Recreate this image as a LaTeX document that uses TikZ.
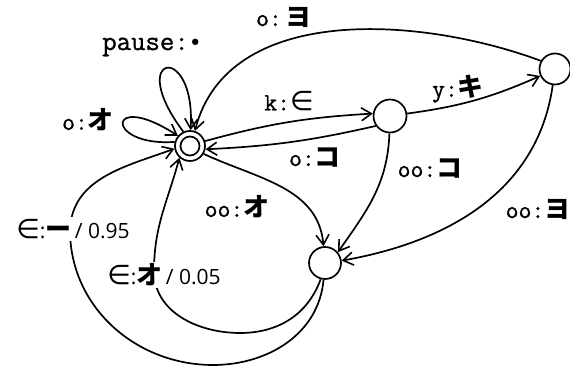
\documentclass[tikz,border=0pt]{standalone}
\usepackage{fontspec}
\usetikzlibrary{arrows.meta}
\newfontfamily\jpfont{Noto Sans CJK JP}
\newfontfamily\symfont{DejaVu Sans}
\newfontfamily\numfont{Open Sans}
\newfontfamily\monofont{Latin Modern Mono}[FakeBold=1]
\newcommand\kana[1]{{\fontsize{26}{26}\jpfont\bfseries #1}}
\newcommand\elm{{\fontsize{27}{27}\symfont ∈}}
\newcommand\prob[1]{{\fontsize{21}{21}\numfont #1}}
\begin{document}
\begin{tikzpicture}[x=1pt,y=1pt,
  state/.style={circle,draw,line width=1.7pt,minimum size=31pt,inner sep=0pt},
  arr/.style={line width=1.7pt,-{Straight Barb[length=10pt,width=13pt,line width=1.6pt]}},
  lab/.style={inner sep=1pt,font=\fontsize{25}{25}\monofont},
  gap/.style={inner sep=2pt,fill=white,font=\fontsize{21}{21}\selectfont}]
\useasboundingbox (0,0) rectangle (570,371);
\node[state,minimum size=30pt] (s0) at (190,225) {};
\node[state,minimum size=19pt] (s0i) at (190,225) {};
\node[state,minimum size=33pt] (s1) at (390,255) {};
\node[state] (s2) at (555,302) {};
\node[state,minimum size=32pt] (s3) at (325,108) {};
\coordinate (a1) at (213,6);
\coordinate (a2) at (70,141);
\coordinate (b1) at (240,38);
\coordinate (b2) at (154,100);
% self loops
\draw[arr] (s0.115) .. controls (124,318) and (196,330) .. (s0.88);
\draw[arr] (s0.165) .. controls (104,224) and (106,282) .. (s0.140);
% edges
\draw[arr] (s2.150) .. controls (420,355) and (228,368) .. (s0.72);
\draw[arr] (s0.18) to[bend left=6] (s1.172);
\draw[arr] (s1.215) to[bend left=5] (s0.-12);
\draw[arr] (s1.8) to[bend right=8] (s2.205);
\draw[arr] (s1.268) to[out=268,in=55] (s3.40);
\draw[arr] (s2.262) to[out=262,in=10] (s3.8);
\draw[arr] (s0.-30) to[out=-25,in=95] (s3.95);
\draw[arr] (s3.265) to[out=265,in=0] (a1) to[out=180,in=270] (a2) to[out=88,in=200] (s0.190);
\draw[arr] (s3.255) to[out=250,in=0] (b1) to[out=180,in=270] (b2) to[out=90,in=255] (s0.228);
% labels
\node[lab,font=\fontsize{28}{28}\monofont] (lpause) at (152,324) {pause:{\fontsize{22}{22}\symfont •}};
\node[lab] (loo) at (88,251) {o:\kana{オ}};
\node[lab] (lyo) at (284,354) {o:\hspace{4pt}\kana{ヨ}};
\node[lab] (lke) at (289,270) {k:\elm};
\node[lab] (lko) at (315,214) {o:\kana{コ}};
\node[lab] (lyk) at (458,282) {y:\kana{キ}};
\node[lab] (looko) at (430,203) {oo:\kana{コ}};
\node[lab] (looyo) at (538,162) {oo:\kana{ヨ}};
\node[lab] (looo) at (237,164) {oo:\kana{オ}};
\node[gap] (l95) at (73,142) {\elm{\numfont:}\kana{ー}\prob{\,/ 0.95}};
\node[gap] (l05) at (164,96) {\elm{\numfont:}\kana{オ}\prob{\,/ 0.05}};
\end{tikzpicture}
\end{document}
